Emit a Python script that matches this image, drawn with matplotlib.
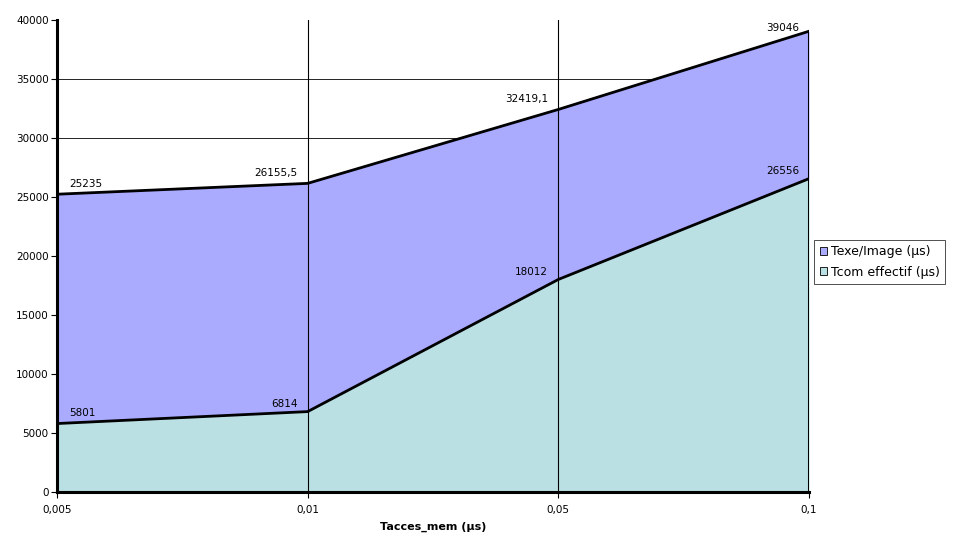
import matplotlib.pyplot as plt
import numpy as np

categories = ["0,005", "0,01", "0,05", "0,1"]
texe_image = [25235, 26155.5, 32419.1, 39046]
tcom_effectif = [5801, 6814, 18012, 26556]
texe_labels = ["25235", "26155,5", "32419,1", "39046"]
tcom_labels = ["5801", "6814", "18012", "26556"]
y_ticks = [0, 5000, 10000, 15000, 20000, 25000, 30000, 35000, 40000]

COLOR_TEXE = "#AAAAFF"
COLOR_TCOM = "#BBE0E3"

plt.rcParams["font.family"] = ["DejaVu Sans"]

fig = plt.figure(figsize=(9.62, 5.34), dpi=100)
ax = fig.add_axes([57 / 962, 42 / 534, (809 - 57) / 962, (492 - 20) / 534])

x = np.arange(len(categories))

# horizontal grid sits behind the areas (none at the top edge)
for yv in y_ticks[1:-1]:
    ax.axhline(yv, color="black", linewidth=0.6, zorder=0)

ax.fill_between(x, 0, tcom_effectif, color=COLOR_TCOM, zorder=1, linewidth=0)
ax.fill_between(x, tcom_effectif, texe_image, color=COLOR_TEXE, zorder=1, linewidth=0)
ax.plot(x, texe_image, color="black", linewidth=2, zorder=3)
ax.plot(x, tcom_effectif, color="black", linewidth=2, zorder=3)

# vertical grid drawn over the areas
for xv in x[1:-1]:
    ax.plot([xv, xv], [0, 40000], color="black", linewidth=0.8, zorder=2)
ax.plot([x[-1], x[-1]], [0, texe_image[-1]], color="black", linewidth=2.2, zorder=3)

# value labels
fs_val = 7.5
ax.text(x[0] + 0.05, texe_image[0] + 450, texe_labels[0], fontsize=fs_val, ha="left", va="bottom")
ax.text(x[0] + 0.05, tcom_effectif[0] + 450, tcom_labels[0], fontsize=fs_val, ha="left", va="bottom")
for i in range(1, len(x)):
    dy_top = 450 if i < len(x) - 1 else -150
    ax.text(x[i] - 0.04, texe_image[i] + dy_top, texe_labels[i], fontsize=fs_val, ha="right", va="bottom")
    ax.text(x[i] - 0.04, tcom_effectif[i] + 250, tcom_labels[i], fontsize=fs_val, ha="right", va="bottom")

ax.set_xlim(x[0], x[-1])
ax.set_ylim(0, 40000)
ax.set_xticks(x)
ax.set_xticklabels(categories, fontsize=7.5)
ax.set_yticks(y_ticks)
ax.set_yticklabels([str(v) for v in y_ticks], fontsize=7.5)
ax.tick_params(axis="both", direction="out", length=4, width=0.8, pad=2)
ax.tick_params(axis="x", pad=5)

for side in ["top", "right"]:
    ax.spines[side].set_visible(False)
ax.spines["left"].set_linewidth(2.2)
ax.spines["bottom"].set_linewidth(2.2)
ax.spines["left"].set_zorder(4)
ax.spines["bottom"].set_zorder(4)

ax.set_xlabel("Tacces_mem (µs)", fontsize=8, fontweight="bold", labelpad=5)

handles = [
    plt.Rectangle((0, 0), 1, 1, facecolor=COLOR_TEXE, edgecolor="black", linewidth=0.6),
    plt.Rectangle((0, 0), 1, 1, facecolor=COLOR_TCOM, edgecolor="black", linewidth=0.6),
]
leg = fig.legend(
    handles,
    ["Texe/Image (µs)", "Tcom effectif (µs)"],
    loc="center left",
    bbox_to_anchor=(814 / 962, 1 - 262 / 534),
    fontsize=9,
    frameon=True,
    fancybox=False,
    edgecolor="black",
    handlelength=0.6,
    handleheight=0.6,
    handletextpad=0.3,
    borderpad=0.45,
    labelspacing=0.6,
    borderaxespad=0,
)
leg.get_frame().set_linewidth(0.6)

fig.savefig("out.png", dpi=100)
